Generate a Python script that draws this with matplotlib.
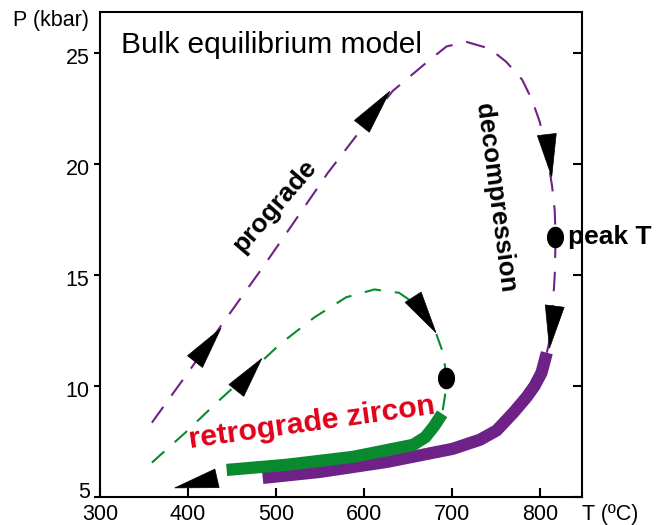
import numpy as np
import matplotlib
matplotlib.use("Agg")
import matplotlib.pyplot as plt
from matplotlib.path import Path
from matplotlib.patches import Polygon
from matplotlib.transforms import ScaledTranslation

plt.rcParams['font.family'] = ['Liberation Sans', 'DejaVu Sans']
plt.rcParams['lines.scale_dashes'] = False

# ---------------- data (T in degC, P in kbar) ----------------
purple_dash_T = [359, 400, 440, 486, 520, 559, 590, 633, 672, 694, 717, 743, 762, 780, 791, 800, 808, 814, 817, 818, 817, 815, 812, 808]
purple_dash_P = [8.35, 10.6, 12.85, 15.4, 17.35, 19.6, 21.2, 23.3, 24.6, 25.3, 25.5, 25.2, 24.6, 23.8, 22.9, 21.9, 20.5, 19.0, 17.9, 16.7, 15.0, 13.7, 12.2, 11.5]

purple_solid_T = [485, 550, 626, 701, 732, 751, 770, 785, 794, 802, 808]
purple_solid_P = [5.86, 6.13, 6.58, 7.17, 7.58, 8.0, 8.8, 9.5, 10.0, 10.6, 11.5]

green_dash_T = [359, 397, 434, 470, 505, 544, 580, 612, 640, 662, 680, 690, 694, 692, 689]
green_dash_P = [6.55, 7.9, 9.3, 10.6, 11.9, 13.1, 14.0, 14.35, 14.2, 13.6, 12.6, 11.5, 10.4, 9.5, 8.75]

green_solid_T = [444, 512, 588, 656, 670, 680, 689]
green_solid_P = [6.22, 6.45, 6.81, 7.35, 7.7, 8.2, 8.75]

# arrows: (tip T, tip P, base T, base P)
arrow_tip_T = [437.5, 629.5, 813.6, 811, 385, 484, 682]
arrow_tip_P = [12.6, 23.28, 19.43, 11.7, 5.41, 11.24, 12.4]
arrow_base_T = [408, 597.7, 808, 817, 433, 455, 656]
arrow_base_P = [11.1, 21.7, 21.33, 13.6, 5.84, 9.8, 14.0]

peak_dot_T, peak_dot_P = [817], [16.7]
green_dot_T, green_dot_P = [693], [10.35]

x_ticks = [300, 400, 500, 600, 700, 800]
y_ticks = [5, 10, 15, 20, 25]

# ---------------- figure ----------------
W, H = 665, 525
fig = plt.figure(figsize=(W / 100, H / 100), dpi=100)
ax = fig.add_axes([100 / W, (H - 497) / H, 482 / W, 485 / H])
ax.set_xlim(300, 848)
ax.set_ylim(5, 26.85)

purple = '#6E2288'
green = '#0A8A2E'
red = '#E2001A'

ax.plot(purple_dash_T, purple_dash_P, color=purple, lw=1.5, dashes=(14, 10), zorder=2)
ax.plot(green_dash_T, green_dash_P, color=green, lw=1.5, dashes=(12, 10), zorder=2)
ax.plot(purple_solid_T, purple_solid_P, color=purple, lw=8.8,
        solid_capstyle='butt', solid_joinstyle='miter', zorder=3)
ax.plot(green_solid_T, green_solid_P, color=green, lw=8.8,
        solid_capstyle='butt', solid_joinstyle='miter', zorder=3)

# ellipse marker
th = np.linspace(0, 2 * np.pi, 64)
ell = Path(np.c_[0.78 * np.cos(th), np.sin(th)], closed=True)
ax.plot(peak_dot_T, peak_dot_P, ls='none', marker=ell, ms=14.5, color='black', zorder=5)
ax.plot(green_dot_T, green_dot_P, ls='none', marker=ell, ms=14.5, color='black', zorder=5)

# arrows as filled triangles
fig.canvas.draw()
half_w = 9.5  # px
for tT, tP, bT, bP in zip(arrow_tip_T, arrow_tip_P, arrow_base_T, arrow_base_P):
    tip = ax.transData.transform((tT, tP))
    base = ax.transData.transform((bT, bP))
    d = tip - base
    d = d / np.hypot(*d)
    n = np.array([-d[1], d[0]])
    pts = np.array([tip, base + n * half_w, base - n * half_w])
    pts_data = ax.transData.inverted().transform(pts)
    ax.add_patch(Polygon(pts_data, closed=True, facecolor='black', edgecolor='black',
                         lw=0.5, zorder=6))

# texts
ax.text(499, 18.1, 'prograde', rotation=49, ha='center', va='center',
        rotation_mode='anchor', fontsize=19, fontweight='bold')
ax.text(749, 18.5, 'decompression', rotation=-82.5, ha='center', va='center',
        rotation_mode='anchor', fontsize=18.5, fontweight='bold')
ax.text(832, 16.7, 'peak T', ha='left', va='center', fontsize=19, fontweight='bold',
        clip_on=False)
ax.text(542, 8.0, 'retrograde zircon', rotation=8, ha='center', va='baseline',
        rotation_mode='anchor', fontsize=21.8, fontweight='bold', color=red)

fig.text(121 / W, 1 - 53 / H, 'Bulk equilibrium model', ha='left', va='baseline',
         fontsize=21.5)
fig.text(13 / W, 1 - 26 / H, 'P (kbar)', ha='left', va='baseline', fontsize=15.5)
fig.text(582 / W, 1 - 520 / H, 'T (ºC)', ha='left', va='baseline', fontsize=15.5)

# axes styling
for s in ax.spines.values():
    s.set_linewidth(1.5)
ax.set_xticks(x_ticks)
ax.set_yticks(y_ticks)
ax.tick_params(axis='x', direction='in', length=6.5, width=1.5, labelsize=15.5, pad=5)
ax.tick_params(axis='y', direction='out', length=4.5, width=1.5, labelsize=15.5, pad=3,
               right=True)
for t in ax.yaxis.get_major_ticks():
    t.tick2line.set_marker(matplotlib.lines.TICKLEFT)
    t.tick2line.set_markersize(6.5)

# lift the lowest y label (as in the reference) so it clears the x labels
fig.canvas.draw()
for lab in ax.get_yticklabels():
    if lab.get_text() in ('5',):
        lab.set_transform(lab.get_transform() + ScaledTranslation(0, 5 / 72, fig.dpi_scale_trans))
    else:
        lab.set_transform(lab.get_transform() + ScaledTranslation(0, -2 / 72, fig.dpi_scale_trans))

fig.savefig('out.png', dpi=100)
